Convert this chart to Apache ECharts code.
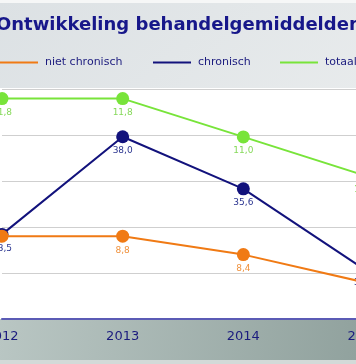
<!DOCTYPE html>
<html><head><meta charset="utf-8">
<script src="https://cdn.jsdelivr.net/npm/echarts@6/dist/echarts.min.js"></script>
<style>html,body{margin:0;padding:0;}#c{width:356px;height:364px;}</style>
</head><body><div id="c"></div>
<script>
const title = 'Ontwikkeling behandelgemiddelden';
const years = ['2012', '2013', '2014', '2015'];
const nietChronisch = [8.8, 8.8, 8.4, 7.8];
const chronisch = [33.5, 38.0, 35.6, 31.9];
const totaal = [11.8, 11.8, 11.0, 10.2];
const seriesNames = ['niet chronisch', 'chronisch', 'totaal'];

const chart = echarts.init(document.getElementById('c'));
const fmt = p => p.value.toFixed(1).replace('.', ',');
const font = 'DejaVu Sans, Verdana, sans-serif';
function lbl(color) {
  return { show: true, position: 'bottom', distance: 3, formatter: fmt, color: color, fontSize: 9, fontFamily: font };
}
function legend(name, left) {
  return { data: [name], left: left, top: 57, padding: 0, itemWidth: 38, itemHeight: 2, icon: 'rect', itemGap: 0,
    textStyle: { color: '#1b1b7e', fontSize: 11, fontFamily: font, padding: [0, 0, 0, 2] } };
}
chart.setOption({
  animation: false,
  graphic: [
    { type: 'rect', z: -10, shape: { x: 0, y: 0, width: 356, height: 364 },
      style: { fill: new echarts.graphic.LinearGradient(0, 0, 1, 1, [
        { offset: 0, color: '#dce1e4' }, { offset: 1, color: '#eff1f1' }]) } },
    { type: 'rect', z: -9, shape: { x: 0, y: 0, width: 356, height: 3 }, style: { fill: '#f6f7f7' } },
    { type: 'rect', z: -9, shape: { x: 0, y: 88, width: 356, height: 231 }, style: { fill: '#ffffff' } },
    { type: 'rect', z: -9, shape: { x: 0, y: 319, width: 356, height: 41 },
      style: { fill: new echarts.graphic.LinearGradient(0, 0, 1, 1, [
        { offset: 0, color: '#b9c6c3' }, { offset: 1, color: '#91a29e' }]) } },
    { type: 'rect', z: -9, shape: { x: 0, y: 360, width: 356, height: 4 }, style: { fill: '#d3dad8' } },
    { type: 'text', z: 10, x: -4, y: 25,
      style: { text: title, fill: '#17178a', font: 'bold 18px ' + font, textVerticalAlign: 'middle' } }
  ],
  legend: [
    legend(seriesNames[0], 0),
    legend(seriesNames[1], 153),
    legend(seriesNames[2], 280)
  ],
  grid: { left: 2, right: -8, top: 89, bottom: 45, containLabel: false, outerBoundsMode: 'none' },
  xAxis: {
    type: 'category', data: years, boundaryGap: false,
    axisLine: { lineStyle: { color: '#5b5bb5', width: 2 } },
    axisTick: { show: false },
    axisLabel: { color: '#1b1b7e', fontSize: 13, fontFamily: font, margin: 11 },
    splitLine: { show: false }
  },
  yAxis: [
    { type: 'value', min: 7, max: 12, interval: 1, axisLabel: { show: false }, axisLine: { show: false }, axisTick: { show: false },
      splitLine: { lineStyle: { color: '#cfcfcf', width: 1 } } },
    { type: 'value', min: 29.6, max: 40.2, show: false, splitLine: { show: false } },
    { type: 'value', min: 7.2, max: 12, show: false, splitLine: { show: false } }
  ],
  series: [
    { name: seriesNames[0], type: 'line', yAxisIndex: 0, z: 5, data: nietChronisch.map((v, i) => i === 0 ? { value: v, label: { show: false } } : v),
      color: '#f07a14', lineStyle: { width: 2 }, symbol: 'circle', symbolSize: 13, label: lbl('#f0913c') },
    { name: seriesNames[1], type: 'line', yAxisIndex: 1, z: 4, data: chronisch,
      color: '#12127c', lineStyle: { width: 2 }, symbol: 'circle', symbolSize: 13, label: lbl('#2b3590') },
    { name: seriesNames[2], type: 'line', yAxisIndex: 2, z: 3, data: totaal,
      color: '#78e43a', lineStyle: { width: 2 }, symbol: 'circle', symbolSize: 13, label: lbl('#86d95a') }
  ]
});
</script></body></html>
